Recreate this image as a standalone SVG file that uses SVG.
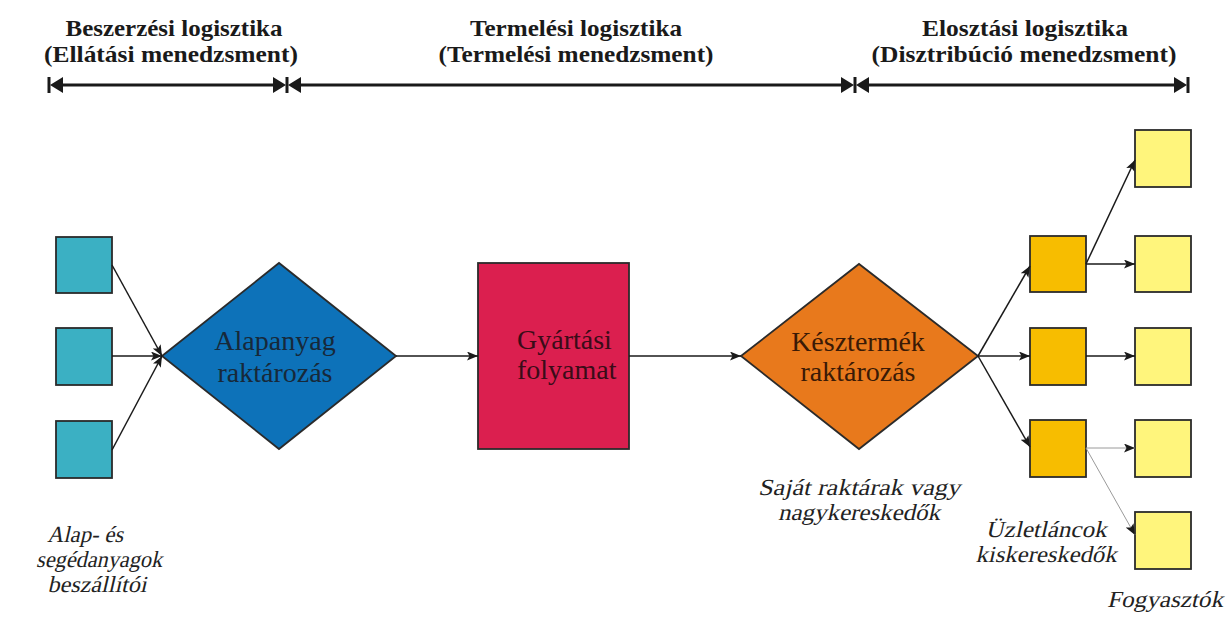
<svg xmlns="http://www.w3.org/2000/svg" width="1228" height="619" viewBox="0 0 1228 619">
  <style>
    .head { font-family: "Liberation Serif", "Times New Roman", serif; font-weight: bold; font-size: 23px; fill: #1a1a1a; text-anchor: middle; }
    .inner { font-family: "Liberation Serif", "Times New Roman", serif; font-size: 28px; text-anchor: middle; }
    .note { font-family: "Liberation Serif", "Times New Roman", serif; font-size: 23px; fill: #222; text-anchor: middle; }
    .box { stroke: #2b2b2b; stroke-width: 1.8; }
    .supplier { fill: #3bb0c3; }
    .retail { fill: #f7bd00; }
    .consumer { fill: #fff57c; }
    .span { stroke: #1a1a1a; stroke-width: 3; fill: none; }
    .tick { stroke: #1a1a1a; stroke-width: 3; }
    .head-arrow { fill: #1a1a1a; }
    .flow { stroke: #1a1a1a; stroke-width: 1.5; fill: none; marker-end: url(#arrow); }
    .flow-thin { stroke: #9a9a9a; stroke-width: 1; fill: none; marker-end: url(#arrow); }
  </style>
  <defs>
    <marker id="arrow" markerUnits="userSpaceOnUse" markerWidth="12" markerHeight="10" refX="11" refY="4.5" orient="auto">
      <path d="M0,0 L11,4.5 L0,9 L2.5,4.5 z" fill="#1a1a1a"/>
    </marker>
  </defs>

  <rect width="1228" height="619" fill="#ffffff"/>

  <!-- headings -->
  <g id="heading-procurement">
    <text class="head" x="174" y="36" textLength="217" lengthAdjust="spacingAndGlyphs">Beszerzési logisztika</text>
    <text class="head" x="171" y="62" textLength="254" lengthAdjust="spacingAndGlyphs">(Ellátási menedzsment)</text>
  </g>
  <g id="heading-production">
    <text class="head" x="576" y="36" textLength="212" lengthAdjust="spacingAndGlyphs">Termelési logisztika</text>
    <text class="head" x="576" y="62" textLength="275" lengthAdjust="spacingAndGlyphs">(Termelési menedzsment)</text>
  </g>
  <g id="heading-distribution">
    <text class="head" x="1025" y="36" textLength="206" lengthAdjust="spacingAndGlyphs">Elosztási logisztika</text>
    <text class="head" x="1024" y="62" textLength="305" lengthAdjust="spacingAndGlyphs">(Disztribúció menedzsment)</text>
  </g>

  <!-- range bars under the headings -->
  <g id="range-bars">
    <line class="tick" x1="49" y1="77" x2="49" y2="93"/>
    <line class="tick" x1="287" y1="77" x2="287" y2="93"/>
    <line class="tick" x1="855" y1="77" x2="855" y2="93"/>
    <line class="tick" x1="1188" y1="77" x2="1188" y2="93"/>
    <line class="span" x1="55" y1="85" x2="280" y2="85"/>
    <line class="span" x1="294" y1="85" x2="848" y2="85"/>
    <line class="span" x1="862" y1="85" x2="1182" y2="85"/>
    <polygon class="head-arrow" points="50,85 63,77 63,93"/>
    <polygon class="head-arrow" points="286,85 273,77 273,93"/>
    <polygon class="head-arrow" points="288,85 301,77 301,93"/>
    <polygon class="head-arrow" points="854,85 841,77 841,93"/>
    <polygon class="head-arrow" points="856,85 869,77 869,93"/>
    <polygon class="head-arrow" points="1187,85 1174,77 1174,93"/>
  </g>

  <!-- suppliers -->
  <g id="supplier-1"><rect class="box supplier" x="56" y="237" width="56" height="56"/></g>
  <g id="supplier-2"><rect class="box supplier" x="56" y="328" width="56" height="57"/></g>
  <g id="supplier-3"><rect class="box supplier" x="56" y="421" width="56" height="57"/></g>

  <!-- raw material storage -->
  <g id="raw-storage">
    <polygon class="box" fill="#0d72b9" points="162,356 279,263 396,356 279,449"/>
    <text class="inner" fill="#17293a" x="275" y="350">Alapanyag</text>
    <text class="inner" fill="#17293a" x="275" y="382">raktározás</text>
  </g>

  <!-- production process -->
  <g id="production">
    <rect class="box" fill="#db1f4f" x="478" y="263" width="151" height="186"/>
    <text class="inner" fill="#3a0c18" x="517" y="349" style="text-anchor:start">Gyártási</text>
    <text class="inner" fill="#3a0c18" x="517" y="379" style="text-anchor:start">folyamat</text>
  </g>

  <!-- finished goods storage -->
  <g id="finished-storage">
    <polygon class="box" fill="#e8791c" points="741,356 859,264 978,356 859,449"/>
    <text class="inner" fill="#3a1a06" x="858" y="351">Késztermék</text>
    <text class="inner" fill="#3a1a06" x="858" y="381">raktározás</text>
  </g>

  <!-- retail chains -->
  <g id="retail-1"><rect class="box retail" x="1030" y="236" width="56" height="56"/></g>
  <g id="retail-2"><rect class="box retail" x="1030" y="328" width="56" height="57"/></g>
  <g id="retail-3"><rect class="box retail" x="1030" y="420" width="56" height="57"/></g>

  <!-- consumers -->
  <g id="consumer-1"><rect class="box consumer" x="1135" y="130" width="56" height="57"/></g>
  <g id="consumer-2"><rect class="box consumer" x="1135" y="236" width="56" height="56"/></g>
  <g id="consumer-3"><rect class="box consumer" x="1135" y="328" width="56" height="57"/></g>
  <g id="consumer-4"><rect class="box consumer" x="1135" y="420" width="56" height="57"/></g>
  <g id="consumer-5"><rect class="box consumer" x="1135" y="512" width="56" height="57"/></g>

  <!-- connectors -->
  <g id="connectors">
    <line class="flow" x1="112" y1="265" x2="162" y2="356"/>
    <line class="flow" x1="112" y1="356" x2="162" y2="356"/>
    <line class="flow" x1="112" y1="450" x2="162" y2="356"/>
    <line class="flow" x1="396" y1="356" x2="478" y2="356"/>
    <line class="flow" x1="629" y1="356" x2="741" y2="356"/>
    <line class="flow" x1="978" y1="356" x2="1030" y2="266"/>
    <line class="flow" x1="978" y1="356" x2="1030" y2="356"/>
    <line class="flow" x1="978" y1="356" x2="1030" y2="447"/>
    <line class="flow" x1="1086" y1="264" x2="1135" y2="160"/>
    <line class="flow" x1="1086" y1="264" x2="1135" y2="264"/>
    <line class="flow" x1="1086" y1="356" x2="1135" y2="356"/>
    <line class="flow-thin" x1="1086" y1="448" x2="1135" y2="448"/>
    <line class="flow-thin" x1="1086" y1="448" x2="1135" y2="535"/>
  </g>

  <!-- captions, slanted serif -->
  <g id="caption-suppliers">
    <text class="note" transform="translate(85,542) skewX(-13)" textLength="76" lengthAdjust="spacingAndGlyphs">Alap- és</text>
    <text class="note" transform="translate(99,567) skewX(-13)" textLength="126" lengthAdjust="spacingAndGlyphs">segédanyagok</text>
    <text class="note" transform="translate(97,592) skewX(-13)" textLength="99" lengthAdjust="spacingAndGlyphs">beszállítói</text>
  </g>
  <g id="caption-wholesale">
    <text class="note" transform="translate(859,495) skewX(-13)" textLength="202" lengthAdjust="spacingAndGlyphs">Saját raktárak vagy</text>
    <text class="note" transform="translate(859,520) skewX(-13)" textLength="162" lengthAdjust="spacingAndGlyphs">nagykereskedők</text>
  </g>
  <g id="caption-retail">
    <text class="note" transform="translate(1046,537) skewX(-13)" textLength="121" lengthAdjust="spacingAndGlyphs">Üzletláncok</text>
    <text class="note" transform="translate(1046,562) skewX(-13)" textLength="141" lengthAdjust="spacingAndGlyphs">kiskereskedők</text>
  </g>
  <g id="caption-consumers">
    <text class="note" transform="translate(1165,607) skewX(-13)" textLength="116" lengthAdjust="spacingAndGlyphs">Fogyasztók</text>
  </g>
</svg>
